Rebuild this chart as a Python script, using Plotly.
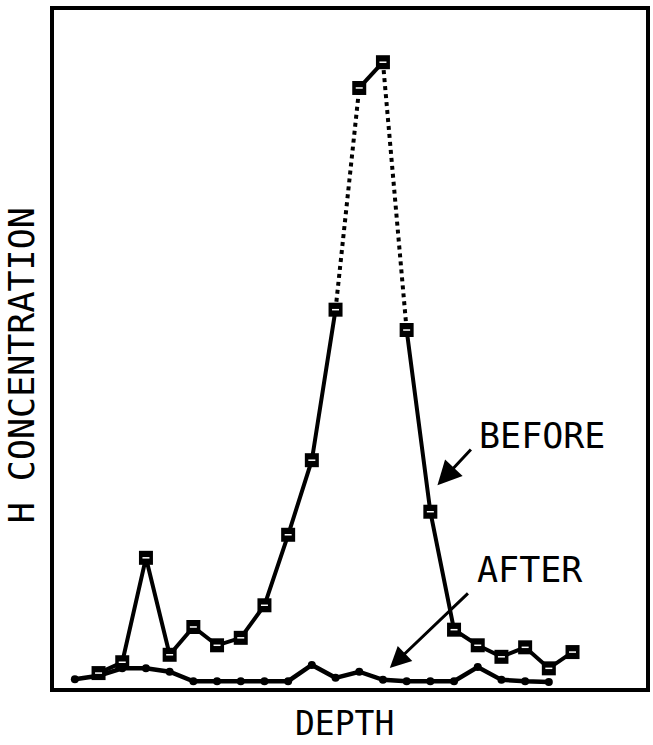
import plotly.graph_objects as go

# Data (arbitrary concentration units, 0-100 full scale)
before_x = list(range(1, 22))
before_y = [2.2, 3.8, 19.2, 4.9, 9.0, 6.3, 7.4, 12.2, 22.6, 33.6, 55.8, 88.5,
            92.3, 52.8, 26.0, 8.6, 6.3, 4.6, 6.0, 2.9, 5.3]
# segments drawn dotted (index pairs into before arrays)
dotted_segments = [(10, 11), (12, 13)]

after_x = list(range(0, 21))
after_y = [1.3, 1.8, 2.9, 2.9, 2.4, 1.0, 1.0, 1.0, 1.0, 1.0, 3.4, 1.5, 2.4,
           1.2, 1.0, 1.0, 1.0, 3.1, 1.2, 1.0, 0.9]

FONT = "DejaVu Sans Mono"
fig = go.Figure()

# Before: solid pieces
solid_runs = []
run = [0]
dotted_starts = {a for a, b in dotted_segments}
for i in range(len(before_x) - 1):
    if i in dotted_starts:
        solid_runs.append(run)
        run = [i + 1]
    else:
        run.append(i + 1)
solid_runs.append(run)

for r in solid_runs:
    fig.add_trace(go.Scatter(
        x=[before_x[i] for i in r], y=[before_y[i] for i in r],
        mode="lines", line=dict(color="black", width=4),
        showlegend=False, hoverinfo="skip"))
for a, b in dotted_segments:
    fig.add_trace(go.Scatter(
        x=[before_x[a], before_x[b]], y=[before_y[a], before_y[b]],
        mode="lines", line=dict(color="black", width=4, dash="dot"),
        showlegend=False, hoverinfo="skip"))

# After line
fig.add_trace(go.Scatter(
    x=after_x, y=after_y, mode="lines+markers",
    line=dict(color="black", width=4.5),
    marker=dict(symbol="circle", size=8, color="black"),
    showlegend=False))

# Before markers
fig.add_trace(go.Scatter(
    x=before_x, y=before_y, mode="markers",
    marker=dict(symbol="square", size=14, color="black"),
    showlegend=False))
fig.add_trace(go.Scatter(
    x=before_x, y=before_y, mode="markers",
    marker=dict(symbol="line-ew", size=5, line=dict(color="white", width=1.5)),
    showlegend=False, hoverinfo="skip"))

fig.add_annotation(x=15.30, y=29.9, ax=16.77, ay=35.4, xref="x", yref="y",
                   axref="x", ayref="y", showarrow=True, arrowhead=2,
                   arrowsize=1.6, arrowwidth=3, arrowcolor="black", text="")
fig.add_annotation(x=13.29, y=2.95, ax=16.65, ay=14.16, xref="x", yref="y",
                   axref="x", ayref="y", showarrow=True, arrowhead=2,
                   arrowsize=1.4, arrowwidth=3, arrowcolor="black", text="")
fig.add_annotation(x=19.71, y=37.2, xref="x", yref="y", text="BEFORE",
                   xanchor="center", yanchor="middle", showarrow=False,
                   font=dict(family=FONT, size=35, color="black"))
fig.add_annotation(x=19.2, y=17.4, xref="x", yref="y", text="AFTER",
                   xanchor="center", yanchor="middle", showarrow=False,
                   font=dict(family=FONT, size=35, color="black"))

fig.add_annotation(x=0, y=0.476, xref="paper", yref="paper", xshift=-32,
                   xanchor="center", yanchor="middle",
                   text="H CONCENTRATION", textangle=-90, showarrow=False,
                   font=dict(family=FONT, size=35, color="black"))
fig.add_annotation(x=0.49, y=-0.0841, xref="paper", yref="paper",
                   xanchor="center", yanchor="bottom",
                   text="DEPTH", showarrow=False,
                   font=dict(family=FONT, size=33, color="black"))

fig.update_xaxes(range=[-0.88, 24.1], showgrid=False, zeroline=False,
                 showticklabels=False, ticks="", showline=True, mirror=True,
                 linecolor="black", linewidth=4)
fig.update_yaxes(range=[0, 100], showgrid=False, zeroline=False,
                 showticklabels=False, ticks="", showline=True, mirror=True,
                 linecolor="black", linewidth=4)
fig.update_layout(width=653, height=745, margin=dict(l=54, r=3, t=10, b=57),
                  plot_bgcolor="white", paper_bgcolor="white")
fig.write_html("out.html")
